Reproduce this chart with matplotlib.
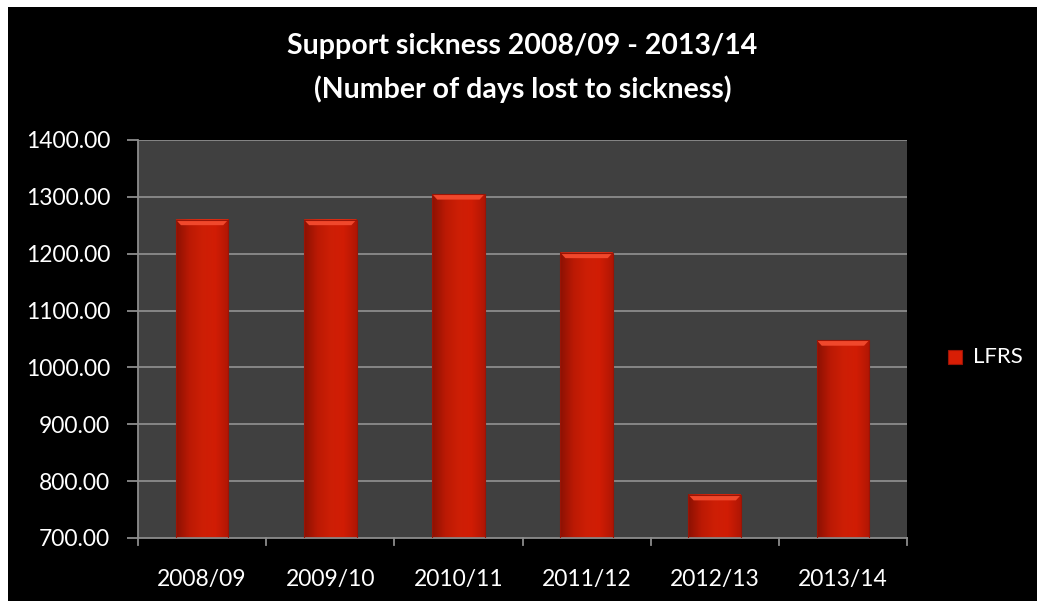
import numpy as np
import matplotlib.pyplot as plt
from matplotlib.patches import Rectangle
from matplotlib.colors import LinearSegmentedColormap

seasons = ['2008/09', '2009/10', '2010/11', '2011/12', '2012/13', '2013/14']
days_lost = [1260, 1260, 1305, 1202, 776, 1048]
series_name = 'LFRS'

plt.rcParams['font.family'] = ['Lato', 'DejaVu Sans']

fig = plt.figure(figsize=(10.37, 6.01), dpi=100, facecolor='white')
# black chart frame (leaves a thin white strip top/left)
fig.patches.append(Rectangle((8 / 1037, 0), 1, 1 - 7 / 601, transform=fig.transFigure,
                             facecolor='black', edgecolor='none', zorder=-5))

ax = fig.add_axes([138 / 1037, 1 - 538 / 601, (907 - 138) / 1037, (538 - 140) / 601])
ax.set_facecolor('#404040')

ymin, ymax = 700, 1400
ax.set_ylim(ymin, ymax)
ax.set_xlim(-0.5, len(seasons) - 0.5)

ticks = np.arange(700, 1401, 100)
ax.set_yticks(ticks)
ax.set_yticklabels([f'{t:.2f}' for t in ticks], color='white', fontsize=16.5)
for t in ticks[1:]:
    ax.axhline(t, color='#8c8c8c', lw=1.3, zorder=1)

x = np.arange(len(seasons))
ax.set_xticks(x)
ax.set_xticklabels(seasons, color='white', fontsize=16.5)
ax.tick_params(axis='x', length=0, pad=22)
ax.tick_params(axis='y', length=8, color='#8c8c8c', width=1.3, pad=12)
for b in np.arange(-0.5, len(seasons), 1.0):
    ax.plot([b, b], [0, -0.018], transform=ax.get_xaxis_transform(), color='#8c8c8c',
            lw=1.3, clip_on=False)

for side in ['top', 'right']:
    ax.spines[side].set_visible(False)
for side in ['left', 'bottom']:
    ax.spines[side].set_color('#8c8c8c')
    ax.spines[side].set_linewidth(1.3)

# red bars, lighter at the top and darker toward the base
width = 0.41
cmap = LinearSegmentedColormap.from_list('bar', ['#b01604', '#dc1e05', '#e42206', '#dc1e05', '#b01604'])
grad = np.tile(np.linspace(0, 1, 64), (64, 1))
vshade = np.linspace(0.8, 1.0, 64)[:, None]
for xi, v in zip(x, days_lost):
    l, r = xi - width / 2, xi + width / 2
    rgba = cmap(grad)
    rgba[..., :3] *= vshade
    ax.imshow(rgba, extent=[l, r, ymin, v], origin='lower', aspect='auto', zorder=2,
              interpolation='bilinear')
    # top bevel highlight
    bev = (ymax - ymin) * 0.014
    ax.add_patch(plt.Polygon([[l, v], [r, v], [r - 0.04, v - bev], [l + 0.04, v - bev]],
                             closed=True, facecolor='#f0482c', edgecolor='none', zorder=3))
    ax.add_patch(Rectangle((l, ymin), width, v - ymin, facecolor='none',
                           edgecolor='#9a1406', lw=0.8, zorder=3))

ax.set_xlim(-0.5, len(seasons) - 0.5)
ax.set_ylim(ymin, ymax)

fig.text(0.5 + 4 / 1037, 1 - 46 / 601, 'Support sickness 2008/09 - 2013/14', ha='center', va='center',
         color='white', fontsize=20.5, fontweight='bold')
fig.text(0.5 + 4 / 1037, 1 - 89 / 601, '(Number of days lost to sickness)', ha='center', va='center',
         color='white', fontsize=20.5, fontweight='bold')

# legend
fig.patches.append(Rectangle((948 / 1037, 1 - 364 / 601), 14 / 1037, 14 / 601,
                             transform=fig.transFigure, facecolor='#d81e05',
                             edgecolor='#9a1406', lw=0.8, zorder=3))
fig.text(973 / 1037, 1 - 357 / 601, series_name, ha='left', va='center',
         color='white', fontsize=16)

fig.savefig('out.png', dpi=100, facecolor=fig.get_facecolor())
